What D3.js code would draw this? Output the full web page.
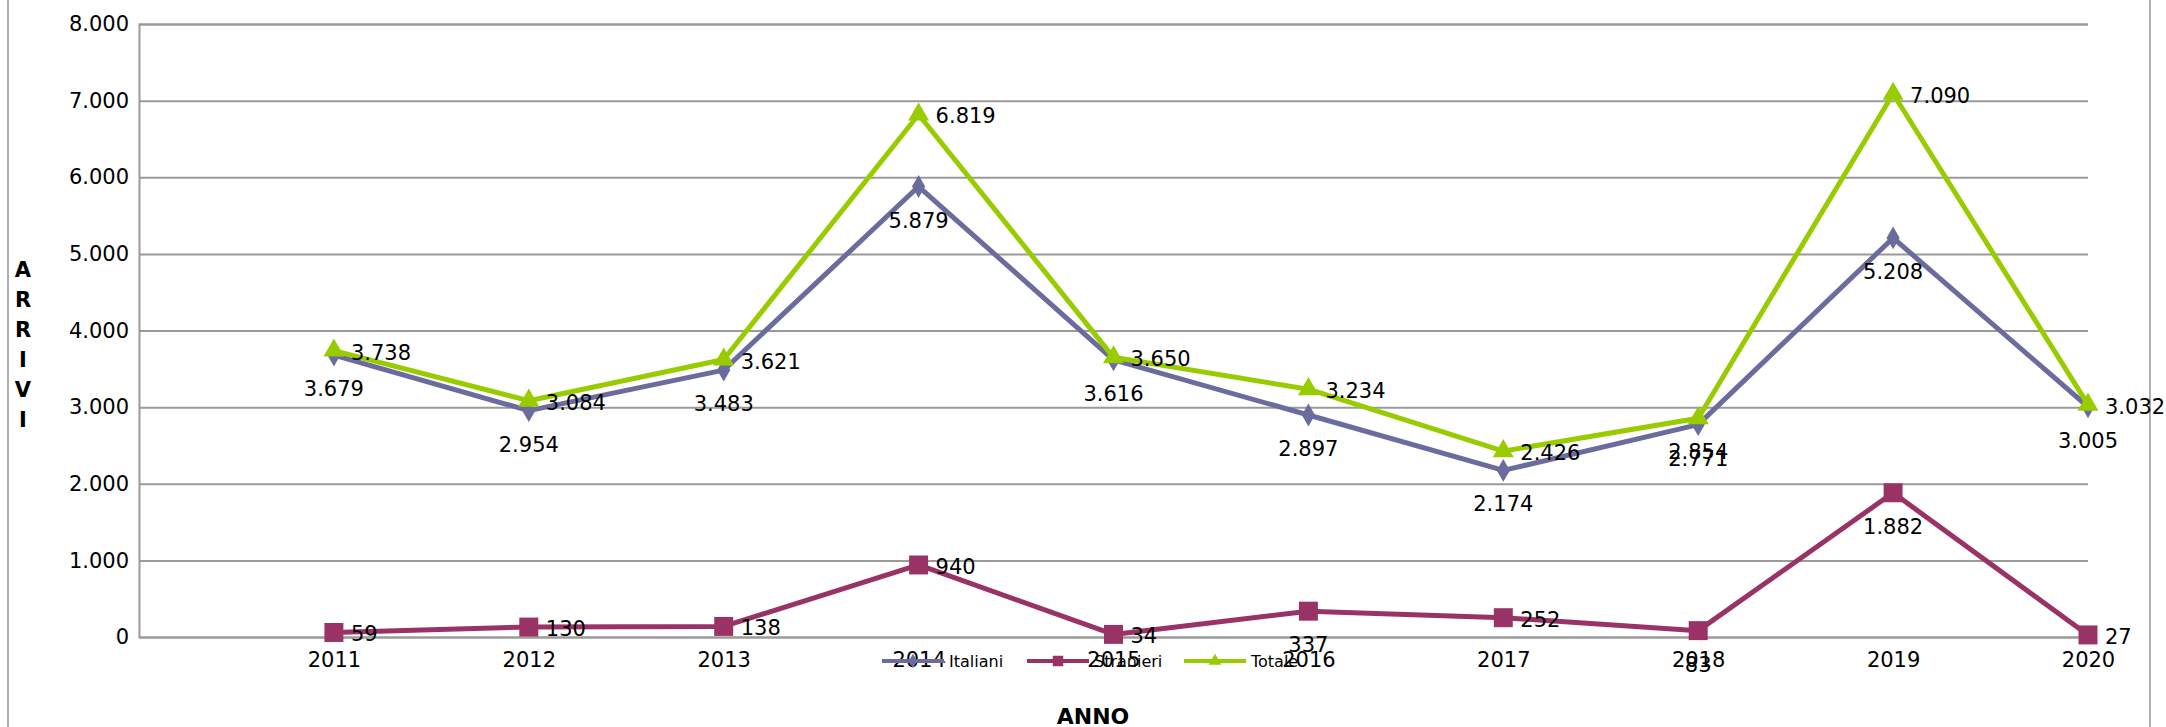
<!DOCTYPE html>
<html>
<head>
<meta charset="utf-8">
<script src="https://cdn.jsdelivr.net/npm/d3@7"></script>
<style>
    body { margin: 0; background: #fff; }
    text { font-family: 'DejaVu Sans', sans-serif; }
</style>
</head>
<body>
<div id="chart"></div>
<script>
/* global d3*/

/* -----------------    DATA     ------------------ */

const anni = [2011, 2012, 2013, 2014, 2015, 2016, 2017, 2018, 2019, 2020];
const italiani = [3679, 2954, 3483, 5879, 3616, 2897, 2174, 2771, 5208, 3005];
const stranieri = [59, 130, 138, 940, 34, 337, 252, 83, 1882, 27];
const totale = [3738, 3084, 3621, 6819, 3650, 3234, 2426, 2854, 7090, 3032];
const yTicks = [0, 1000, 2000, 3000, 4000, 5000, 6000, 7000, 8000];

// where the label of each point sits: 'r' right of marker, 'b' below
const posItaliani = ['b', 'b', 'b', 'b', 'b', 'b', 'b', 'b', 'b', 'b'];
const posStranieri = ['r', 'r', 'r', 'r', 'r', 'b', 'r', 'b', 'b', 'r'];
const posTotale = ['r', 'r', 'r', 'r', 'r', 'r', 'r', 'b', 'r', 'r'];

/* -----------------    CONSTANTS     ------------------ */

const settings = {
    width: 2166,
    height: 727,
    plot: {left: 139, right: 2088, top: 24, bottom: 637},
    colGrid: '#9a9a9a',
    colItaliani: '#6b6b9e',
    colStranieri: '#993366',
    colTotale: '#99cc00'
};

/* -----------------    LOGIC     ------------------ */

const { width, height, plot } = settings;

const svg = d3.select('#chart')
    .append('svg')
    .attr('width', width)
    .attr('height', height);

// frame of the chart area
svg.append('line')
    .attr('x1', 8).attr('x2', 8).attr('y1', 0).attr('y2', height)
    .attr('stroke', '#b0b0b0').attr('stroke-width', 2);
svg.append('line')
    .attr('x1', 2150).attr('x2', 2150).attr('y1', 0).attr('y2', height)
    .attr('stroke', '#b0b0b0').attr('stroke-width', 2);

const x = d3.scaleLinear()
    .domain([2010, 2020])
    .range([plot.left, plot.right]);

const y = d3.scaleLinear()
    .domain([0, 8000])
    .range([plot.bottom, plot.top]);

const fmt = d3.formatLocale({decimal: ',', thousands: '.', grouping: [3], currency: ['', '']}).format(',d');

// gridlines + y labels
const yAxis = svg.append('g')
    .attr('transform', 'translate(' + plot.left + ',0)')
    .call(d3.axisLeft(y)
        .tickValues(yTicks)
        .tickSize(-(plot.right - plot.left))
        .tickPadding(10)
        .tickFormat(fmt));

yAxis.select('.domain').attr('stroke', settings.colGrid).attr('stroke-width', 2);
yAxis.selectAll('.tick line')
    .attr('stroke', settings.colGrid)
    .attr('stroke-width', 2);
yAxis.selectAll('.tick text')
    .attr('font-size', '21px')
    .attr('fill', '#000')
    .attr('font-family', 'DejaVu Sans');

// x labels
const xAxis = svg.append('g')
    .attr('transform', 'translate(0,' + plot.bottom + ')')
    .call(d3.axisBottom(x)
        .tickValues(anni)
        .tickSize(0)
        .tickPadding(15)
        .tickFormat(d3.format('d')));

xAxis.select('.domain').remove();
xAxis.selectAll('.tick text')
    .attr('font-size', '21px')
    .attr('fill', '#000')
    .attr('font-family', 'DejaVu Sans');

// axis titles
svg.append('text')
    .text('ANNO')
    .attr('x', 1093)
    .attr('y', 724)
    .attr('text-anchor', 'middle')
    .attr('font-size', '22px')
    .attr('font-weight', 'bold');

const arriviTitle = svg.append('text')
    .attr('font-size', '21px')
    .attr('font-weight', 'bold')
    .attr('text-anchor', 'middle');
'ARRIVI'.split('').forEach(function(letter, i) {
    arriviTitle.append('tspan')
        .attr('x', 23)
        .attr('y', 277 + i * 30)
        .text(letter);
});

// series
const series = [
    {name: 'Italiani', values: italiani, pos: posItaliani, color: settings.colItaliani, shape: d3.symbolDiamond, size: 150, legendSize: 60},
    {name: 'Stranieri', values: stranieri, pos: posStranieri, color: settings.colStranieri, shape: d3.symbolSquare, size: 360, legendSize: 110},
    {name: 'Totale', values: totale, pos: posTotale, color: settings.colTotale, shape: d3.symbolTriangle, size: 190, legendSize: 70}
];

const line = d3.line()
    .x(function(d, i) { return x(anni[i]); })
    .y(function(d) { return y(d); });

series.forEach(function(s) {
    const group = svg.append('g').attr('class', 'serie');

    group.append('path')
        .attr('d', line(s.values))
        .attr('fill', 'none')
        .attr('stroke', s.color)
        .attr('stroke-width', 5)
        .attr('stroke-linejoin', 'round');

    group.selectAll('.marker')
        .data(s.values)
        .enter()
        .append('path')
        .attr('class', 'marker')
        .attr('d', d3.symbol().type(s.shape).size(s.size))
        .attr('transform', function(d, i) { return 'translate(' + x(anni[i]) + ',' + y(d) + ')'; })
        .attr('fill', s.color);
});

// data labels drawn last so they stay on top
series.forEach(function(s) {
    svg.append('g')
        .selectAll('text')
        .data(s.values)
        .enter()
        .append('text')
        .text(function(d) { return fmt(d); })
        .attr('x', function(d, i) { return s.pos[i] === 'r' ? x(anni[i]) + 17 : x(anni[i]); })
        .attr('y', function(d, i) { return s.pos[i] === 'r' ? y(d) + 9 : y(d) + 41; })
        .attr('text-anchor', function(d, i) { return s.pos[i] === 'r' ? 'start' : 'middle'; })
        .attr('font-size', '21px')
        .attr('fill', '#000');
});

// legend
const legendX = [882, 1027, 1184];
const legend = svg.append('g').attr('class', 'legend');
series.forEach(function(s, i) {
    const lx = legendX[i];
    legend.append('line')
        .attr('x1', lx).attr('x2', lx + 62)
        .attr('y1', 661).attr('y2', 661)
        .attr('stroke', s.color)
        .attr('stroke-width', 4);
    legend.append('path')
        .attr('d', d3.symbol().type(s.shape).size(s.legendSize))
        .attr('transform', 'translate(' + (lx + 31) + ',661)')
        .attr('fill', s.color);
    legend.append('text')
        .text(s.name)
        .attr('x', lx + 67)
        .attr('y', 667)
        .attr('font-family', 'Liberation Sans')
        .attr('font-size', '16px')
        .attr('fill', '#000');
});
</script>
</body>
</html>
